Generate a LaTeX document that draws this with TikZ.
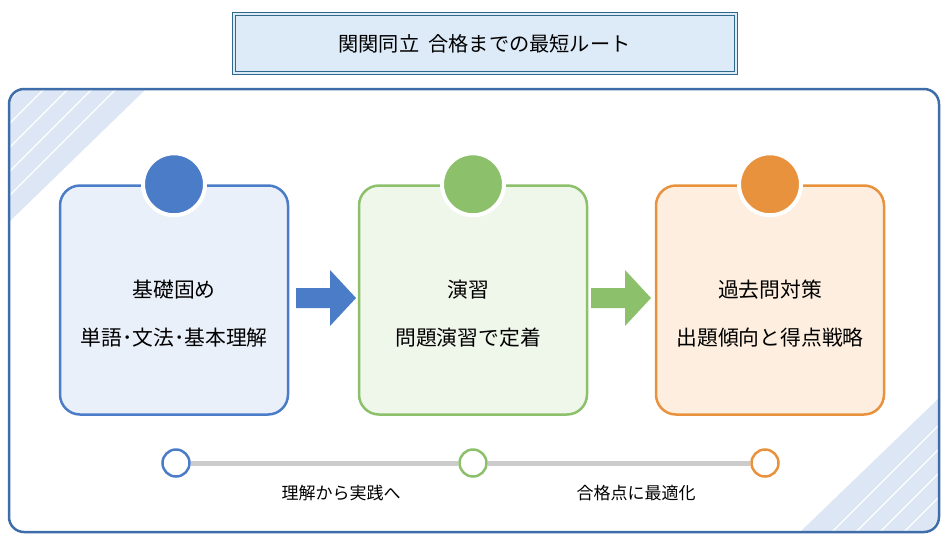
\documentclass[tikz,border=0pt]{standalone}
\usepackage{fontspec}
\usepackage{xcolor}
\newfontfamily\cjk{Noto Sans CJK JP}
\definecolor{frameblue}{HTML}{3E6DAA}
\definecolor{titleline}{HTML}{2F6A8C}
\definecolor{stripe}{HTML}{DCE6F4}
\definecolor{cblue}{HTML}{4A7CC8}
\definecolor{cgreen}{HTML}{8CC06A}
\definecolor{corange}{HTML}{E8923E}
\definecolor{fblue}{HTML}{E9F0FA}
\definecolor{ftitle}{HTML}{DDEAF7}
\definecolor{fgreen}{HTML}{EFF6EA}
\definecolor{forange}{HTML}{FDEEDF}
\tikzset{
  card/.style={draw=#1,line width=2.5pt,rounded corners=20pt,minimum width=228pt,minimum height=229pt},
  badge/.style={circle,fill=#1,draw=white,line width=4pt,minimum size=62pt,inner sep=0pt},
  stop/.style={circle,fill=white,draw=#1,line width=2.5pt,minimum size=27pt,inner sep=0pt},
  txt/.style={font=\cjk\fontsize{20.8}{24}\selectfont,align=center},
  small/.style={font=\cjk\fontsize{17}{20}\selectfont}
}
\begin{document}
\begin{tikzpicture}[x=1pt,y=-1pt]
    \useasboundingbox (0,0) rectangle (949,541);
    % title
    \draw[titleline,line width=0.8pt,fill=ftitle] (232,12) rectangle (737,74);
    \draw[titleline,line width=0.8pt] (235,15) rectangle (734,71);
    \node[font=\cjk\fontsize{20.2}{23}\selectfont] (title) at (484.5,44) {関関同立\ \ 合格までの最短ルート};
    % frame with corner stripes
    \begin{scope}
        \clip[rounded corners=15pt] (9,89) rectangle (939,532);
        \fill[stripe] (9,89) -- (146,89) -- (9,222) -- cycle;
        \fill[stripe] (939,398) -- (939,532) -- (800,532) -- cycle;
        \foreach \i in {0,...,4} {
            \draw[white,line width=1.3pt] ({20+24*\i},89) -- ++(-150,150);
            \draw[white,line width=1.3pt] ({928-24*\i},532) -- ++(150,-150);
        }
    \end{scope}
    \draw[frameblue,line width=2.5pt,rounded corners=15pt] (9,89) rectangle (939,532);
    % cards
    \node[card=cblue,fill=fblue] (c1) at (174,300) {};
    \node[card=cgreen,fill=fgreen] (c2) at (473,300) {};
    \node[card=corange,fill=forange] (c3) at (770,300) {};
    \node[badge=cblue] (b1) at (c1.north) {};
    \node[badge=cgreen] (b2) at (c2.north) {};
    \node[badge=corange] (b3) at (c3.north) {};
    \node[txt] (t1a) at (174,290) {基礎固め};
    \node[txt] (t1b) at (174,338) {単語･文法･基本理解};
    \node[txt] (t2a) at (468,290) {演習};
    \node[txt] (t2b) at (468,338) {問題演習で定着};
    \node[txt] (t3a) at (770,290) {過去問対策};
    \node[txt] (t3b) at (770,338) {出題傾向と得点戦略};
    % block arrows
    \fill[cblue] (296,288) -- (330,288) -- (330,270) -- (356,298) -- (330,326) -- (330,308) -- (296,308) -- cycle;
    \fill[cgreen] (591,288) -- (625,288) -- (625,270) -- (651,298) -- (625,326) -- (625,308) -- (591,308) -- cycle;
    % timeline
    \node[stop=cblue] (s1) at (176,463) {};
    \node[stop=cgreen] (s2) at (473,463) {};
    \node[stop=corange] (s3) at (765,463) {};
    \draw[black!20,line width=5pt] (s1) -- (s2);
    \draw[black!20,line width=5pt] (s2) -- (s3);
    \node[small] (l1) at (341,493) {理解から実践へ};
    \node[small] (l2) at (636,493) {合格点に最適化};
\end{tikzpicture}
\end{document}
